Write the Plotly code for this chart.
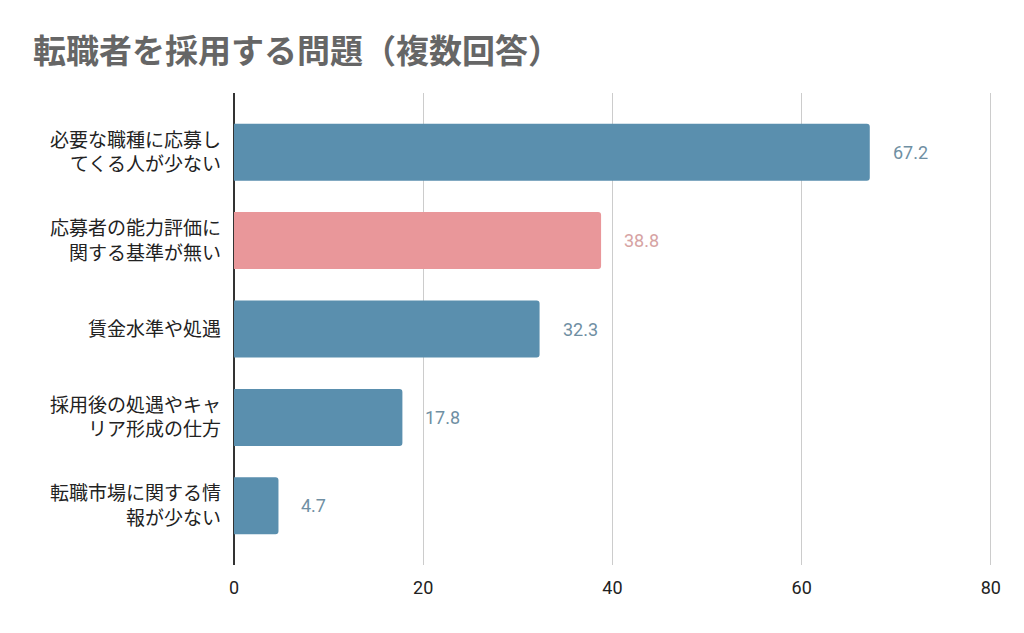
import plotly.graph_objects as go

categories = [
    "必要な職種に応募し<br>てくる人が少ない",
    "応募者の能力評価に<br>関する基準が無い",
    "賃金水準や処遇",
    "採用後の処遇やキャ<br>リア形成の仕方",
    "転職市場に関する情<br>報が少ない",
]
values = [67.2, 38.8, 32.3, 17.8, 4.7]
bar_colors = ["#5a8fae", "#e9979a", "#5a8fae", "#5a8fae", "#5a8fae"]
label_colors = ["#6f8fa3", "#d6a3a3", "#6f8fa3", "#6f8fa3", "#6f8fa3"]
x_ticks = [0, 20, 40, 60, 80]
title = "転職者を採用する問題（複数回答）"

FONT = "Noto Sans CJK JP"
NUMFONT = "Roboto"
ypos = list(range(len(categories)))

fig = go.Figure()
fig.add_trace(go.Bar(
    x=values, y=ypos, orientation="h",
    marker=dict(color=bar_colors, line=dict(width=0)),
    width=0.645, hoverinfo="skip",
))

for i, (v, c) in enumerate(zip(values, label_colors)):
    fig.add_annotation(
        x=v, y=i, text=f"{v:.1f}", showarrow=False,
        xanchor="left", yanchor="middle", xshift=21,
        font=dict(family=NUMFONT, size=18, color=c),
    )

fig.update_layout(
    width=1024, height=633,
    margin=dict(l=234, r=32, t=93, b=68),
    paper_bgcolor="white", plot_bgcolor="white",
    barcornerradius=3,
    showlegend=False,
    title=dict(text=f"<b>{title}</b>", x=33 / 1024, xanchor="left",
               y=1 - 51 / 633, yanchor="middle",
               font=dict(family=FONT, size=33, color="#666666")),
    font=dict(family=FONT),
)
fig.update_xaxes(
    range=[0, 80.12], tickvals=x_ticks, ticktext=[str(t) for t in x_ticks],
    showgrid=True, gridcolor="#cccccc", gridwidth=1,
    zeroline=True, zerolinecolor="#333333", zerolinewidth=1.5,
    showline=False, ticks="", ticklen=0,
    ticklabelstandoff=10,
    tickfont=dict(family=NUMFONT, size=18, color="#222222"),
    fixedrange=True,
)
fig.update_yaxes(
    range=[4.67, -0.67], tickvals=ypos, ticktext=categories,
    showgrid=False, zeroline=False, showline=False, ticks="",
    ticklabelstandoff=12,
    tickfont=dict(family=FONT, size=19, color="#222222"),
    fixedrange=True,
)

fig.write_html("out.html")
